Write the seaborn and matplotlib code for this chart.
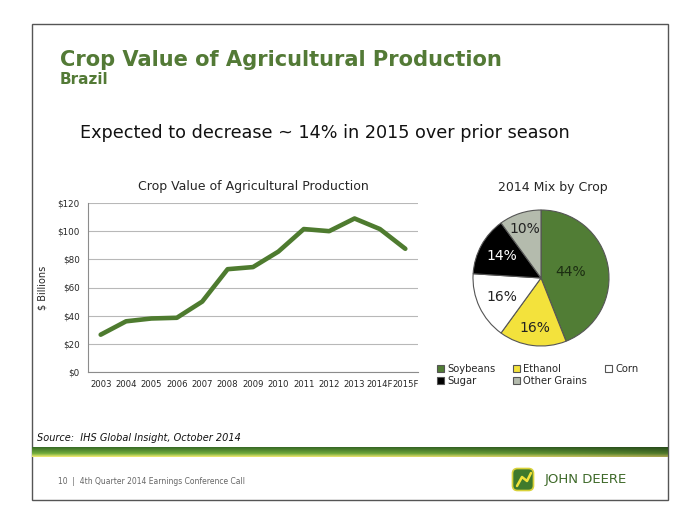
import numpy as np
import pandas as pd
import matplotlib
matplotlib.use("Agg")
import matplotlib.pyplot as plt
import seaborn as sns
from matplotlib.patches import Rectangle, FancyBboxPatch

# data
years = ["2003", "2004", "2005", "2006", "2007", "2008", "2009",
         "2010", "2011", "2012", "2013", "2014F", "2015F"]
crop_value = [26.5, 36, 38, 38.5, 50, 73, 74.5, 85.5, 101.5, 100, 109, 101.5, 87.5]

crops = ["Soybeans", "Ethanol", "Corn", "Sugar", "Other Grains"]
mix_pct = [44, 16, 16, 14, 10]
crop_colors = ["#517d35", "#f3e23c", "#ffffff", "#000000", "#b4bbad"]
label_colors = ["#1c2e12", "#222222", "#222222", "#ffffff", "#222222"]
label_dist = [0.44, 0.74, 0.64, 0.66, 0.76]

W, H = 700, 525
GREEN = "#537a36"

sns.set_theme(style="white")
plt.rcParams['font.family'] = ['DejaVu Sans']

fig = plt.figure(figsize=(7, 5.25), dpi=100)

# background layer in pixel coords (slide frame, headings, footer)
bg = fig.add_axes([0, 0, 1, 1])
bg.set_xlim(0, W)
bg.set_ylim(H, 0)
bg.axis('off')
bg.add_patch(Rectangle((32, 24), 636, 476, fill=False, edgecolor="#555555", lw=1))
bg.text(60, 66, "Crop Value of Agricultural Production", color=GREEN,
        fontsize=15.1, fontweight='bold', va='baseline')
bg.text(60, 84, "Brazil", color=GREEN, fontsize=11, fontweight='bold', va='baseline')
bg.text(80, 138, "Expected to decrease ~ 14% in 2015 over prior season",
        fontsize=12.7, color="#111111", va='baseline')
bg.text(37, 441, "Source:  IHS Global Insight, October 2014", fontsize=7,
        style='italic', color="#111111", va='baseline')

# green band
grad_v = np.linspace(0, 1, 20)[:, None]
grad_h = np.linspace(0, 1, 200)[None, :]
top = np.array([0.22, 0.42, 0.15])
mid = np.array([0.45, 0.68, 0.24])
bot = np.array([0.95, 0.92, 0.45])
band = np.where(grad_v[..., None] < 0.65,
                top + (mid - top) * (grad_v[..., None] / 0.65),
                mid + (bot - mid) * ((grad_v[..., None] - 0.65) / 0.35))
band = band * (1 - 0.3 * (grad_h[..., None] ** 3))
band = np.broadcast_to(band, (20, 200, 3))
bg.imshow(band, extent=(32, 668, 457, 447), aspect='auto', zorder=1)

bg.text(58, 484, "10  |  4th Quarter 2014 Earnings Conference Call", fontsize=5.5,
        color="#666666", va='baseline')
bg.add_patch(FancyBboxPatch((514, 470), 18, 19, boxstyle="round,pad=1.5,rounding_size=5",
                            facecolor="#3f7a2c", edgecolor="#d9d23a", lw=1.2))
bg.plot([517, 522, 527, 531], [486, 477, 481, 473], color="#f2e23a", lw=1.8)
bg.text(545, 479, "JOHN DEERE", fontsize=9.5, color="#3f6a2a", va='center')

# line chart
ax = fig.add_axes([88 / W, 1 - 372 / H, 330 / W, 169 / H])
df = pd.DataFrame({"year": years, "value": crop_value})
sns.lineplot(data=df, x="year", y="value", ax=ax, color="#4e7b2f", linewidth=3.3, sort=False)
ax.set_xlim(-0.5, len(years) - 0.5)
ax.set_ylim(0, 120)
ax.set_yticks(range(0, 121, 20))
ax.set_yticklabels([f"${v}" for v in range(0, 121, 20)], fontsize=6.3)
ax.set_xticks(range(len(years)))
ax.set_xticklabels(years, fontsize=6.1)
ax.set_xticks(np.arange(-0.5, len(years)), minor=True)
ax.tick_params(axis='x', which='major', length=0, pad=6)
ax.tick_params(axis='x', which='minor', length=4, color="#8c8c8c", direction='out')
ax.tick_params(axis='y', length=3, color="#8c8c8c", direction='out', pad=3)
ax.yaxis.grid(True, color="#b8b8b8", lw=0.8)
ax.set_axisbelow(True)
for s in ["top", "right"]:
    ax.spines[s].set_visible(False)
for s in ["left", "bottom"]:
    ax.spines[s].set_color("#8c8c8c")
    ax.spines[s].set_linewidth(0.8)
ax.set_xlabel("")
ax.set_ylabel("$ Billions", fontsize=7)
ax.yaxis.set_label_coords(-0.124, 0.5)
ax.set_title("Crop Value of Agricultural Production", fontsize=9, pad=9)

# pie chart
R = 68
half = 90
cx, cy = 541, 278
ax2 = fig.add_axes([(cx - half) / W, 1 - (cy + half) / H, 2 * half / W, 2 * half / H])
wedges, _ = ax2.pie(mix_pct, colors=crop_colors, startangle=90, counterclock=False,
                    wedgeprops=dict(edgecolor="#555555", linewidth=0.8))
lim = half / R
ax2.set_xlim(-lim, lim)
ax2.set_ylim(-lim, lim)
for w, pct, d, c in zip(wedges, mix_pct, label_dist, label_colors):
    ang = np.deg2rad((w.theta1 + w.theta2) / 2)
    ax2.text(d * np.cos(ang), d * np.sin(ang), f"{pct}%", ha='center', va='center',
             fontsize=10, color=c)
fig.text(553 / W, 1 - 187 / H, "2014 Mix by Crop", ha='center', va='center', fontsize=9)

order = [0, 3, 1, 4, 2]
fig.legend([wedges[i] for i in order], [crops[i] for i in order], ncol=3,
           loc='upper left', bbox_to_anchor=(437 / W, 1 - 364 / H), frameon=False,
           fontsize=7.2, handlelength=0.7, handleheight=0.7, handletextpad=0.3,
           columnspacing=1.8, labelspacing=0.2, borderpad=0, borderaxespad=0)

fig.savefig("out.png", dpi=100)
